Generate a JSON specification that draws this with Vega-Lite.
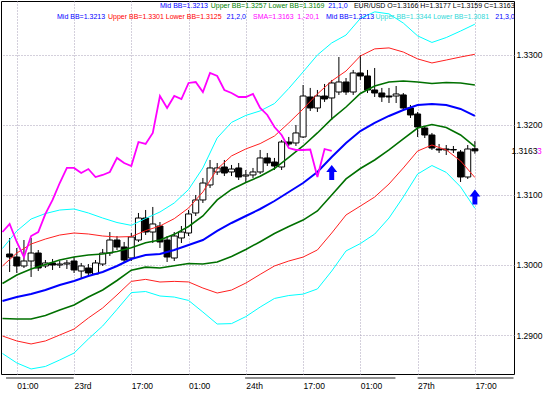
{
  "$schema": "https://vega.github.io/schema/vega-lite/v6.json",
  "width": 513,
  "height": 373,
  "autosize": "none",
  "padding": {"left": 1, "top": 1, "right": 36, "bottom": 19},
  "background": "white",
  "config": {"view": {"stroke": "black", "strokeWidth": 1}, "font": "Liberation Sans"},
  "datasets": {
    "candles": [
      {"i": -1, "o": 1.30157, "h": 1.30386, "l": 1.299, "c": 1.30114},
      {"i": 0, "o": 1.30114, "h": 1.30243, "l": 1.29886, "c": 1.29986},
      {"i": 1, "o": 1.29986, "h": 1.30357, "l": 1.29957, "c": 1.30057},
      {"i": 2, "o": 1.30057, "h": 1.30386, "l": 1.29829, "c": 1.30171},
      {"i": 3, "o": 1.30171, "h": 1.30214, "l": 1.29914, "c": 1.29957},
      {"i": 4, "o": 1.29986, "h": 1.30071, "l": 1.29957, "c": 1.30029},
      {"i": 5, "o": 1.30029, "h": 1.30086, "l": 1.29929, "c": 1.3},
      {"i": 6, "o": 1.3, "h": 1.30057, "l": 1.29957, "c": 1.30014},
      {"i": 7, "o": 1.30014, "h": 1.30071, "l": 1.29943, "c": 1.30029},
      {"i": 8, "o": 1.30057, "h": 1.30114, "l": 1.29886, "c": 1.29929},
      {"i": 9, "o": 1.29914, "h": 1.30029, "l": 1.29814, "c": 1.29986},
      {"i": 10, "o": 1.29957, "h": 1.30014, "l": 1.29829, "c": 1.29886},
      {"i": 11, "o": 1.29871, "h": 1.30071, "l": 1.29857, "c": 1.30029},
      {"i": 12, "o": 1.30014, "h": 1.30229, "l": 1.29986, "c": 1.30171},
      {"i": 13, "o": 1.30171, "h": 1.30471, "l": 1.30129, "c": 1.30357},
      {"i": 14, "o": 1.30357, "h": 1.30414, "l": 1.30214, "c": 1.30257},
      {"i": 15, "o": 1.30257, "h": 1.30329, "l": 1.30029, "c": 1.30071},
      {"i": 16, "o": 1.301, "h": 1.30457, "l": 1.30057, "c": 1.304},
      {"i": 17, "o": 1.30357, "h": 1.30743, "l": 1.30329, "c": 1.30671},
      {"i": 18, "o": 1.30671, "h": 1.30786, "l": 1.30429, "c": 1.30471},
      {"i": 19, "o": 1.30471, "h": 1.30829, "l": 1.30314, "c": 1.30586},
      {"i": 20, "o": 1.30557, "h": 1.30614, "l": 1.30243, "c": 1.30329},
      {"i": 21, "o": 1.30357, "h": 1.30414, "l": 1.30043, "c": 1.30114},
      {"i": 22, "o": 1.301, "h": 1.30471, "l": 1.30057, "c": 1.30414},
      {"i": 23, "o": 1.30386, "h": 1.30557, "l": 1.30314, "c": 1.30471},
      {"i": 24, "o": 1.30457, "h": 1.30786, "l": 1.30414, "c": 1.30729},
      {"i": 25, "o": 1.30743, "h": 1.31, "l": 1.307, "c": 1.30929},
      {"i": 26, "o": 1.30929, "h": 1.31243, "l": 1.30886, "c": 1.31171},
      {"i": 27, "o": 1.31143, "h": 1.315, "l": 1.311, "c": 1.31386},
      {"i": 28, "o": 1.31329, "h": 1.31457, "l": 1.31286, "c": 1.31386},
      {"i": 29, "o": 1.314, "h": 1.315, "l": 1.31271, "c": 1.31314},
      {"i": 30, "o": 1.31329, "h": 1.31429, "l": 1.31271, "c": 1.31371},
      {"i": 31, "o": 1.31386, "h": 1.31457, "l": 1.31214, "c": 1.31257},
      {"i": 32, "o": 1.31271, "h": 1.31357, "l": 1.31171, "c": 1.31286},
      {"i": 33, "o": 1.31286, "h": 1.31386, "l": 1.31243, "c": 1.31329},
      {"i": 34, "o": 1.31329, "h": 1.31643, "l": 1.313, "c": 1.31529},
      {"i": 35, "o": 1.31529, "h": 1.316, "l": 1.31414, "c": 1.31457},
      {"i": 36, "o": 1.31471, "h": 1.31529, "l": 1.31357, "c": 1.31414},
      {"i": 37, "o": 1.314, "h": 1.31786, "l": 1.31357, "c": 1.31757},
      {"i": 38, "o": 1.31757, "h": 1.31829, "l": 1.317, "c": 1.31729},
      {"i": 39, "o": 1.31743, "h": 1.32, "l": 1.317, "c": 1.31886},
      {"i": 40, "o": 1.31829, "h": 1.32571, "l": 1.31814, "c": 1.32414},
      {"i": 41, "o": 1.324, "h": 1.32529, "l": 1.322, "c": 1.32243},
      {"i": 42, "o": 1.32243, "h": 1.325, "l": 1.32186, "c": 1.32414},
      {"i": 43, "o": 1.32414, "h": 1.32586, "l": 1.32329, "c": 1.32371},
      {"i": 44, "o": 1.32386, "h": 1.32643, "l": 1.32071, "c": 1.326},
      {"i": 45, "o": 1.32471, "h": 1.32971, "l": 1.32429, "c": 1.32614},
      {"i": 46, "o": 1.32614, "h": 1.32671, "l": 1.32429, "c": 1.32471},
      {"i": 47, "o": 1.32471, "h": 1.32786, "l": 1.32429, "c": 1.32743},
      {"i": 48, "o": 1.32743, "h": 1.33, "l": 1.32643, "c": 1.327},
      {"i": 49, "o": 1.327, "h": 1.32786, "l": 1.32457, "c": 1.325},
      {"i": 50, "o": 1.325, "h": 1.32814, "l": 1.324, "c": 1.32457},
      {"i": 51, "o": 1.32457, "h": 1.32529, "l": 1.32329, "c": 1.324},
      {"i": 52, "o": 1.32414, "h": 1.32529, "l": 1.32314, "c": 1.324},
      {"i": 53, "o": 1.32414, "h": 1.32557, "l": 1.32314, "c": 1.32443},
      {"i": 54, "o": 1.32429, "h": 1.32457, "l": 1.32214, "c": 1.32243},
      {"i": 55, "o": 1.32243, "h": 1.32286, "l": 1.321, "c": 1.32143},
      {"i": 56, "o": 1.32157, "h": 1.32186, "l": 1.31829, "c": 1.31971},
      {"i": 57, "o": 1.31957, "h": 1.31986, "l": 1.31814, "c": 1.31857},
      {"i": 58, "o": 1.31857, "h": 1.31886, "l": 1.31643, "c": 1.31671},
      {"i": 59, "o": 1.31657, "h": 1.31729, "l": 1.316, "c": 1.31643},
      {"i": 60, "o": 1.31657, "h": 1.31714, "l": 1.31571, "c": 1.31643},
      {"i": 61, "o": 1.31643, "h": 1.317, "l": 1.316, "c": 1.3165},
      {"i": 62, "o": 1.31614, "h": 1.31643, "l": 1.31186, "c": 1.31257},
      {"i": 63, "o": 1.31257, "h": 1.31714, "l": 1.31229, "c": 1.31657},
      {"i": 64, "o": 1.3166, "h": 1.3177, "l": 1.3159, "c": 1.3163}
    ],
    "bands": [
      {"i": -2, "mid": 1.29486, "u1": 1.29736, "u2": 1.29986, "u3": 1.30236, "l1": 1.29236, "l2": 1.28986, "l3": 1.28736},
      {"i": 0, "mid": 1.29543, "u1": 1.29857, "u2": 1.30171, "u3": 1.30485, "l1": 1.29229, "l2": 1.28915, "l3": 1.28601},
      {"i": 2, "mid": 1.29586, "u1": 1.29943, "u2": 1.303, "u3": 1.30657, "l1": 1.29229, "l2": 1.28872, "l3": 1.28515},
      {"i": 4, "mid": 1.29643, "u1": 1.30007, "u2": 1.30371, "u3": 1.30735, "l1": 1.29279, "l2": 1.28915, "l3": 1.28551},
      {"i": 6, "mid": 1.29714, "u1": 1.30071, "u2": 1.30428, "u3": 1.30785, "l1": 1.29357, "l2": 1.29, "l3": 1.28643},
      {"i": 8, "mid": 1.29771, "u1": 1.30114, "u2": 1.30457, "u3": 1.308, "l1": 1.29428, "l2": 1.29085, "l3": 1.28742},
      {"i": 10, "mid": 1.29843, "u1": 1.30143, "u2": 1.30443, "u3": 1.30743, "l1": 1.29543, "l2": 1.29243, "l3": 1.28943},
      {"i": 12, "mid": 1.299, "u1": 1.30157, "u2": 1.30414, "u3": 1.30671, "l1": 1.29643, "l2": 1.29386, "l3": 1.29129},
      {"i": 14, "mid": 1.29986, "u1": 1.30193, "u2": 1.304, "u3": 1.30607, "l1": 1.29779, "l2": 1.29572, "l3": 1.29365},
      {"i": 16, "mid": 1.30086, "u1": 1.30246, "u2": 1.30406, "u3": 1.30566, "l1": 1.29926, "l2": 1.29766, "l3": 1.29606},
      {"i": 18, "mid": 1.30143, "u1": 1.30317, "u2": 1.30491, "u3": 1.30665, "l1": 1.29969, "l2": 1.29795, "l3": 1.29621},
      {"i": 20, "mid": 1.30157, "u1": 1.30357, "u2": 1.30557, "u3": 1.30757, "l1": 1.29957, "l2": 1.29757, "l3": 1.29557},
      {"i": 22, "mid": 1.30214, "u1": 1.30438, "u2": 1.30662, "u3": 1.30886, "l1": 1.2999, "l2": 1.29766, "l3": 1.29542},
      {"i": 24, "mid": 1.30286, "u1": 1.3055, "u2": 1.30814, "u3": 1.31078, "l1": 1.30022, "l2": 1.29758, "l3": 1.29494},
      {"i": 26, "mid": 1.30357, "u1": 1.307, "u2": 1.31043, "u3": 1.31386, "l1": 1.30014, "l2": 1.29671, "l3": 1.29328},
      {"i": 28, "mid": 1.30486, "u1": 1.30929, "u2": 1.31372, "u3": 1.31815, "l1": 1.30043, "l2": 1.296, "l3": 1.29157},
      {"i": 30, "mid": 1.306, "u1": 1.31079, "u2": 1.31558, "u3": 1.32037, "l1": 1.30121, "l2": 1.29642, "l3": 1.29163},
      {"i": 32, "mid": 1.307, "u1": 1.31179, "u2": 1.31658, "u3": 1.32137, "l1": 1.30221, "l2": 1.29742, "l3": 1.29263},
      {"i": 34, "mid": 1.308, "u1": 1.31267, "u2": 1.31734, "u3": 1.32201, "l1": 1.30333, "l2": 1.29866, "l3": 1.29399},
      {"i": 36, "mid": 1.30914, "u1": 1.31378, "u2": 1.31842, "u3": 1.32306, "l1": 1.3045, "l2": 1.29986, "l3": 1.29522},
      {"i": 38, "mid": 1.31043, "u1": 1.31536, "u2": 1.32029, "u3": 1.32522, "l1": 1.3055, "l2": 1.30057, "l3": 1.29564},
      {"i": 40, "mid": 1.31171, "u1": 1.317, "u2": 1.32229, "u3": 1.32758, "l1": 1.30642, "l2": 1.30113, "l3": 1.29584},
      {"i": 42, "mid": 1.31329, "u1": 1.31886, "u2": 1.32443, "u3": 1.33, "l1": 1.30772, "l2": 1.30215, "l3": 1.29658},
      {"i": 44, "mid": 1.31543, "u1": 1.32086, "u2": 1.32629, "u3": 1.33172, "l1": 1.31, "l2": 1.30457, "l3": 1.29914},
      {"i": 46, "mid": 1.31743, "u1": 1.32257, "u2": 1.32771, "u3": 1.33285, "l1": 1.31229, "l2": 1.30715, "l3": 1.30201},
      {"i": 48, "mid": 1.31914, "u1": 1.3245, "u2": 1.32986, "u3": 1.33522, "l1": 1.31378, "l2": 1.30842, "l3": 1.30306},
      {"i": 50, "mid": 1.32029, "u1": 1.32558, "u2": 1.33087, "u3": 1.33616, "l1": 1.315, "l2": 1.30971, "l3": 1.30442},
      {"i": 52, "mid": 1.32129, "u1": 1.32615, "u2": 1.33101, "u3": 1.33587, "l1": 1.31643, "l2": 1.31157, "l3": 1.30671},
      {"i": 54, "mid": 1.32214, "u1": 1.32628, "u2": 1.33042, "u3": 1.33456, "l1": 1.318, "l2": 1.31386, "l3": 1.30972},
      {"i": 56, "mid": 1.32286, "u1": 1.32615, "u2": 1.32944, "u3": 1.33273, "l1": 1.31957, "l2": 1.31628, "l3": 1.31299},
      {"i": 58, "mid": 1.323, "u1": 1.32593, "u2": 1.32886, "u3": 1.33179, "l1": 1.32007, "l2": 1.31714, "l3": 1.31421},
      {"i": 60, "mid": 1.32286, "u1": 1.32607, "u2": 1.32928, "u3": 1.33249, "l1": 1.31965, "l2": 1.31644, "l3": 1.31323},
      {"i": 62, "mid": 1.32229, "u1": 1.326, "u2": 1.32971, "u3": 1.33342, "l1": 1.31858, "l2": 1.31487, "l3": 1.31116},
      {"i": 64, "mid": 1.3213, "u1": 1.3257, "u2": 1.3301, "u3": 1.3344, "l1": 1.3169, "l2": 1.3125, "l3": 1.3081}
    ],
    "sma": [
      {"i": -2, "v": 1.30471}, {"i": -1, "v": 1.30586}, {"i": 0, "v": 1.30329}, {"i": 1, "v": 1.30114},
      {"i": 2, "v": 1.30414}, {"i": 3, "v": 1.30471}, {"i": 4, "v": 1.30729}, {"i": 5, "v": 1.30929},
      {"i": 6, "v": 1.31171}, {"i": 7, "v": 1.31386}, {"i": 8, "v": 1.31386}, {"i": 9, "v": 1.31314},
      {"i": 10, "v": 1.31371}, {"i": 11, "v": 1.31257}, {"i": 12, "v": 1.31286}, {"i": 13, "v": 1.31329},
      {"i": 14, "v": 1.31529}, {"i": 15, "v": 1.31457}, {"i": 16, "v": 1.31414}, {"i": 17, "v": 1.31757},
      {"i": 18, "v": 1.31729}, {"i": 19, "v": 1.31886}, {"i": 20, "v": 1.32414}, {"i": 21, "v": 1.32243},
      {"i": 22, "v": 1.32414}, {"i": 23, "v": 1.32371}, {"i": 24, "v": 1.326}, {"i": 25, "v": 1.32614},
      {"i": 26, "v": 1.32471}, {"i": 27, "v": 1.32743}, {"i": 28, "v": 1.327}, {"i": 29, "v": 1.325},
      {"i": 30, "v": 1.32457}, {"i": 31, "v": 1.324}, {"i": 32, "v": 1.324}, {"i": 33, "v": 1.32443},
      {"i": 34, "v": 1.32243}, {"i": 35, "v": 1.32143}, {"i": 36, "v": 1.31971}, {"i": 37, "v": 1.31857},
      {"i": 38, "v": 1.31671}, {"i": 39, "v": 1.31643}, {"i": 40, "v": 1.31643}, {"i": 41, "v": 1.3165},
      {"i": 42, "v": 1.31257}, {"i": 43, "v": 1.31657}, {"i": 44, "v": 1.3163}
    ],
    "arrows": [{"i": 44, "p": 1.31321}, {"i": 64, "p": 1.3097}],
    "seps": [{"i": -1.5, "i2": 7.95}, {"i": 31.9, "i2": 52.9}, {"i": 56, "i2": 69.4}],
    "header": [
      {"i": 20.0, "p": 1.337, "t": "Mid BB=1.3213", "s": "mid"},
      {"i": 27.1, "p": 1.337, "t": "Upper BB=1.3257 Lower BB=1.3169", "s": "bb1"},
      {"i": 43.5, "p": 1.337, "t": "21,1,0", "s": "mid"},
      {"i": 47.1, "p": 1.337, "t": "EUR/USD O=1.3166 H=1.3177 L=1.3159 C=1.3163", "s": "px"},
      {"i": 5.62, "p": 1.33543, "t": "Mid BB=1.3213", "s": "mid"},
      {"i": 12.74, "p": 1.33543, "t": "Upper BB=1.3301 Lower BB=1.3125", "s": "bb2"},
      {"i": 29.3, "p": 1.33543, "t": "21,2,0", "s": "mid"},
      {"i": 33.0, "p": 1.33543, "t": "SMA=1.3163", "s": "sma"},
      {"i": 39.2, "p": 1.33543, "t": "1,-20,1", "s": "sma"},
      {"i": 43.2, "p": 1.33543, "t": "Mid BB=1.3213", "s": "mid"},
      {"i": 50.1, "p": 1.33543, "t": "Upper BB=1.3344 Lower BB=1.3081", "s": "bb3"},
      {"i": 66.85, "p": 1.33543, "t": "21,3,0", "s": "mid"}
    ],
    "plabels": [
      {"i": 72.67, "p": 1.3163, "t": "3", "s": "sma"},
      {"i": 69.11, "p": 1.3163, "t": "1.3163", "s": "px"}
    ]
  },
  "encoding": {
    "x": {
      "field": "i",
      "type": "quantitative",
      "title": null,
      "scale": {"domain": [-1.507, 68.767], "nice": false, "zero": false},
      "axis": {
        "orient": "bottom",
        "values": [0, 8, 16, 24, 32, 40, 48, 56, 64],
        "labelExpr": "['01:00','23rd','17:00','01:00','24th','17:00','01:00','27th','17:00'][round(datum.value/8)]",
        "labelAlign": "left",
        "labelBaseline": "top",
        "labelPadding": 7,
        "labelFont": "Liberation Sans",
        "labelFontSize": 8.5,
        "labelColor": "black",
        "labelFlush": false,
        "labelOverlap": false,
        "labelBound": false,
        "ticks": false,
        "domain": false,
        "grid": true,
        "gridColor": "#a8a0b8",
        "gridDash": [1, 2],
        "title": null
      }
    }
  },
  "layer": [
    {
      "data": {"name": "seps"},
      "mark": {"type": "rule", "color": "#909090", "strokeWidth": 2},
      "encoding": {
        "x2": {"field": "i2"},
        "y": {"datum": 1.28386, "type": "quantitative", "scale": {"domain": [1.28443, 1.33771], "nice": false, "zero": false}, "title": null}
      }
    },
    {
      "data": {"name": "candles"},
      "mark": {"type": "rule", "color": "black", "strokeWidth": 1},
      "encoding": {
        "y": {
          "field": "l", "type": "quantitative", "title": null,
          "scale": {"domain": [1.28443, 1.33771], "nice": false, "zero": false},
          "axis": {
            "orient": "right",
            "values": [1.29, 1.30, 1.31, 1.32, 1.33],
            "format": ".4f",
            "ticks": false,
            "domain": false,
            "labelPadding": 2,
            "labelFont": "Liberation Sans",
            "labelFontSize": 8.5,
            "labelColor": "black",
            "grid": true,
            "gridColor": "#a8a0b8",
            "gridDash": [1, 2],
            "title": null
          }
        },
        "y2": {"field": "h"}
      }
    },
    {
      "data": {"name": "candles"},
      "mark": {"type": "bar", "size": 6, "stroke": "black", "strokeWidth": 1},
      "encoding": {
        "y": {"field": "o", "type": "quantitative", "title": null, "scale": {"domain": [1.28443, 1.33771], "nice": false, "zero": false}},
        "y2": {"field": "c"},
        "fill": {"condition": {"test": "datum.c >= datum.o", "value": "white"}, "value": "black"}
      }
    },
    {
      "data": {"name": "bands"},
      "mark": {"type": "line", "color": "#00ffff", "strokeWidth": 1, "clip": true},
      "encoding": {"y": {"field": "u3", "type": "quantitative", "title": null, "scale": {"domain": [1.28443, 1.33771], "nice": false, "zero": false}}}
    },
    {
      "data": {"name": "bands"},
      "mark": {"type": "line", "color": "#00ffff", "strokeWidth": 1, "clip": true},
      "encoding": {"y": {"field": "l3", "type": "quantitative", "title": null, "scale": {"domain": [1.28443, 1.33771], "nice": false, "zero": false}}}
    },
    {
      "data": {"name": "bands"},
      "mark": {"type": "line", "color": "#ff2020", "strokeWidth": 1, "clip": true},
      "encoding": {"y": {"field": "u2", "type": "quantitative", "title": null, "scale": {"domain": [1.28443, 1.33771], "nice": false, "zero": false}}}
    },
    {
      "data": {"name": "bands"},
      "mark": {"type": "line", "color": "#ff2020", "strokeWidth": 1, "clip": true},
      "encoding": {"y": {"field": "l2", "type": "quantitative", "title": null, "scale": {"domain": [1.28443, 1.33771], "nice": false, "zero": false}}}
    },
    {
      "data": {"name": "bands"},
      "mark": {"type": "line", "color": "#007000", "strokeWidth": 1.6, "clip": true},
      "encoding": {"y": {"field": "u1", "type": "quantitative", "title": null, "scale": {"domain": [1.28443, 1.33771], "nice": false, "zero": false}}}
    },
    {
      "data": {"name": "bands"},
      "mark": {"type": "line", "color": "#007000", "strokeWidth": 1.6, "clip": true},
      "encoding": {"y": {"field": "l1", "type": "quantitative", "title": null, "scale": {"domain": [1.28443, 1.33771], "nice": false, "zero": false}}}
    },
    {
      "data": {"name": "bands"},
      "mark": {"type": "line", "color": "#0000ff", "strokeWidth": 2, "clip": true},
      "encoding": {"y": {"field": "mid", "type": "quantitative", "title": null, "scale": {"domain": [1.28443, 1.33771], "nice": false, "zero": false}}}
    },
    {
      "data": {"name": "sma"},
      "mark": {"type": "line", "color": "#ff00ff", "strokeWidth": 1.8, "clip": true},
      "encoding": {"y": {"field": "v", "type": "quantitative", "title": null, "scale": {"domain": [1.28443, 1.33771], "nice": false, "zero": false}}}
    },
    {
      "data": {"name": "arrows"},
      "mark": {"type": "point", "shape": "M0,-1L0.73,-0.07L0.33,-0.07L0.33,1L-0.33,1L-0.33,-0.07L-0.73,-0.07Z", "size": 225, "filled": true, "color": "#0000ff", "opacity": 1},
      "encoding": {"y": {"field": "p", "type": "quantitative", "title": null, "scale": {"domain": [1.28443, 1.33771], "nice": false, "zero": false}}}
    },
    {
      "data": {"name": "header"},
      "mark": {"type": "text", "align": "left", "baseline": "middle", "fontSize": 7, "font": "Liberation Sans"},
      "encoding": {
        "y": {"field": "p", "type": "quantitative", "title": null, "scale": {"domain": [1.28443, 1.33771], "nice": false, "zero": false}},
        "text": {"field": "t"},
        "color": {"field": "s", "type": "nominal", "legend": null, "scale": {"domain": ["mid", "bb1", "bb2", "bb3", "sma", "px"], "range": ["#0000ff", "#008000", "#ff0000", "#30d8d8", "#ff00ff", "#000000"]}}
      }
    },
    {
      "data": {"name": "plabels"},
      "mark": {"type": "text", "align": "left", "baseline": "middle", "fontSize": 8.5, "font": "Liberation Sans"},
      "encoding": {
        "y": {"field": "p", "type": "quantitative", "title": null, "scale": {"domain": [1.28443, 1.33771], "nice": false, "zero": false}},
        "text": {"field": "t"},
        "color": {"field": "s", "type": "nominal", "legend": null, "scale": {"domain": ["mid", "bb1", "bb2", "bb3", "sma", "px"], "range": ["#0000ff", "#008000", "#ff0000", "#30d8d8", "#ff00ff", "#000000"]}}
      }
    }
  ]
}
